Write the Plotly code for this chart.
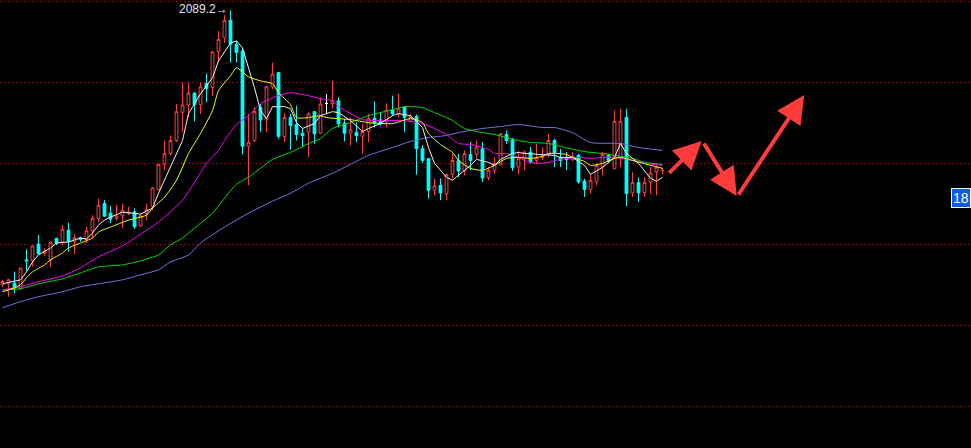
import plotly.graph_objects as go

# ---- candle data (price units) ----
opens = [1750.3,1751.5,1752.4,1745.4,1781.0,1780.1,1800.6,1789.2,1781.0,1807.6,
         1803.5,1817.8,1803.5,1808.4,1806.4,1817.0,1832.2,1850.6,1838.7,1832.2,
         1835.4,1838.4,1840.3,1823.1,1838.4,1846.5,1867.8,1898.9,1912.1,1928.4,
         1963.2,1972.3,1987.0,1972.6,1998.8,1993.9,2038.1,2055.3,2076.7,2047.2,
         2039.0,1921.4,1928.4,1969.3,1953.8,1994.7,2012.3,1933.3,1957.0,1948.1,
         1937.4,1938.6,1964.0,1937.4,1974.2,1974.2,1977.5,1949.7,1937.4,1938.6,
         1933.7,1939.5,1955.8,1953.8,1950.9,1966.1,1961.2,1969.3,1952.1,1957.9,
         1918.2,1905.9,1867.0,1873.1,1862.9,1886.6,1903.8,1890.7,1911.2,1911.2,
         1918.2,1882.6,1891.6,1898.9,1935.8,1929.3,1895.6,1905.9,1914.0,1903.8,
         1907.2,1911.2,1928.4,1907.2,1907.2,1904.7,1910.0,1878.4,1867.8,1877.2,
         1896.5,1910.0,1893.6,1905.9,1957.0,1863.7,1876.4,1864.2,1877.2,1889.5,
         1891.6]
highs = [1756.4,1757.6,1766.6,1771.2,1794.1,1798.2,1811.7,1795.4,1803.5,1808.4,
         1824.0,1826.8,1812.9,1809.6,1821.9,1836.3,1856.8,1854.7,1847.3,1848.6,
         1850.6,1846.5,1844.5,1838.4,1850.6,1871.0,1899.8,1928.4,1934.6,1973.5,
         2000.0,2000.0,1987.7,2000.0,2011.1,2039.0,2063.5,2083.2,2089.2,2051.3,
         2041.4,1961.2,1969.3,1973.5,1996.0,2024.6,2013.0,1961.9,1961.2,1971.4,
         1944.0,1963.2,1965.0,1981.6,1985.8,2002.1,1981.6,1955.1,1957.0,1950.9,
         1948.9,1961.2,1976.7,1963.2,1974.2,1983.7,1985.8,1970.2,1961.2,1960.4,
         1922.3,1906.5,1881.4,1881.4,1887.0,1912.1,1912.1,1916.1,1926.3,1928.4,
         1926.3,1895.6,1907.9,1937.5,1940.7,1931.7,1915.3,1916.1,1920.2,1924.4,
         1920.2,1936.6,1930.5,1918.2,1914.0,1914.0,1912.1,1881.4,1886.6,1899.8,
         1914.0,1912.1,1965.3,1967.4,1967.4,1889.5,1882.6,1883.3,1895.6,1897.7,
         1894.9]
lows = [1747.8,1735.5,1740.1,1744.1,1767.5,1772.8,1788.4,1786.3,1772.0,1799.4,
        1799.4,1791.2,1788.0,1803.5,1801.5,1807.6,1828.0,1834.2,1826.4,1830.1,
        1819.9,1836.3,1819.1,1821.9,1830.1,1842.4,1867.0,1891.6,1910.0,1926.3,
        1938.6,1957.0,1952.1,1961.2,1975.5,1983.7,2024.6,2049.2,2024.6,2024.6,
        1911.2,1873.1,1926.3,1938.6,1938.6,1991.9,1930.5,1926.3,1917.0,1928.4,
        1920.2,1907.9,1924.4,1936.6,1961.2,1967.7,1944.7,1927.2,1922.3,1926.3,
        1912.1,1926.3,1944.7,1946.8,1944.7,1959.1,1957.0,1938.6,1950.9,1886.3,
        1900.5,1856.8,1860.8,1854.7,1854.7,1881.4,1883.3,1885.4,1891.6,1905.9,
        1877.2,1879.3,1887.5,1897.7,1924.4,1890.7,1886.6,1891.6,1899.8,1899.8,
        1903.8,1907.9,1895.6,1895.6,1891.6,1903.0,1875.2,1858.8,1862.9,1873.1,
        1885.4,1901.8,1893.0,1895.6,1847.3,1858.8,1852.6,1858.8,1862.9,1860.8,
        1886.6]
closes = [1754.3,1756.4,1746.2,1770.8,1779.8,1798.2,1788.4,1792.0,1802.7,1801.5,
          1818.7,1803.5,1808.4,1806.4,1817.0,1832.2,1848.6,1835.0,1831.4,1835.4,
          1842.4,1840.3,1821.9,1835.4,1843.6,1869.8,1898.9,1912.1,1928.4,1964.0,
          1972.3,1987.0,1972.6,1994.7,1992.7,2037.7,2053.3,2076.7,2047.2,2036.9,
          1921.4,1926.3,1964.0,1953.8,1994.7,2010.4,1933.3,1957.0,1946.8,1935.8,
          1934.6,1961.2,1936.6,1973.5,1974.2,1977.5,1948.9,1937.4,1941.6,1934.6,
          1939.5,1955.8,1949.7,1948.9,1966.1,1961.2,1967.4,1957.0,1957.9,1918.2,
          1903.8,1867.0,1872.3,1863.7,1886.6,1903.8,1890.7,1912.1,1903.8,1920.2,
          1882.1,1891.6,1899.8,1936.6,1928.4,1894.9,1905.9,1914.0,1901.8,1907.2,
          1910.0,1928.4,1912.8,1903.8,1904.7,1908.8,1877.2,1867.8,1879.3,1897.7,
          1911.2,1903.8,1952.1,1952.1,1862.9,1876.4,1863.7,1876.4,1888.2,1895.6,
          1891.6]
doji_white_idx = [54]
doji_red_idx = [110]

# ---- moving-average lines (candle index, price) ----
ma5_idx = [0,3,4,5,6,8,9,11,12,13,14,15,16,17,18,20,23,25,26,28,30,31,33,35,36,38,39,40,42,43,
           44,45,47,48,49,50,52,53,55,56,58,60,61,63,65,66,68,70,71,72,74,75,76,78,79,81,82,83,85,86,
           87,90,92,93,95,97,98,100,102,103,104,106,108,109,110]
ma5_val = [1751.5,1756.4,1766.2,1778.5,1787.1,1795.7,1801.9,1803.1,1805.6,1808.0,
           1806.8,1814.2,1824.0,1830.1,1833.8,1840.0,1837.5,1844.9,1863.3,1895.2,
           1928.4,1961.6,1986.1,2005.8,2026.7,2048.8,2051.3,2042.7,1993.5,1965.3,
           1955.4,1970.2,1970.2,1967.7,1950.5,1943.2,1949.3,1959.1,1964.0,1962.8,
           1953.0,1939.5,1943.2,1949.3,1959.1,1961.6,1959.1,1944.4,1919.8,1900.2,
           1883.0,1879.3,1885.4,1897.7,1905.1,1901.4,1897.7,1905.1,1912.4,1913.7,
           1912.4,1911.2,1910.0,1907.5,1907.5,1897.7,1886.6,1895.2,1907.5,1924.7,
           1912.4,1900.2,1881.7,1878.0,1883.0]
ma10_idx = [0,2,3,4,5,7,8,10,11,13,15,16,18,21,24,25,27,29,31,33,35,36,38,39,41,43,45,46,48,49,
            51,53,54,58,61,65,68,70,71,73,75,76,78,80,82,84,86,88,90,91,94,95,97,98,100,102,103,105,108,110]
ma10_val = [1741.7,1746.6,1750.3,1758.9,1766.2,1774.8,1781.0,1789.6,1795.7,1801.9,
            1808.0,1815.4,1821.5,1830.1,1836.3,1844.9,1858.4,1879.3,1912.4,1937.0,
            1965.3,1989.8,2008.3,2018.1,2007.0,2002.1,1998.4,1987.4,1972.6,1956.7,
            1956.7,1959.1,1956.7,1954.2,1950.5,1949.3,1955.4,1950.5,1937.0,1923.5,
            1913.7,1903.8,1894.0,1891.6,1897.7,1906.3,1907.5,1906.3,1908.8,1912.4,
            1911.2,1907.5,1902.6,1897.7,1900.2,1906.3,1907.5,1903.8,1897.7,1894.0]
ma20_idx = [0,3,6,10,13,16,20,23,26,30,32,34,36,37,39,41,43,46,48,51,53,55,56,58,60,62,67,70,72,74,
            76,78,81,82,84,86,87,89,91,93,96,98,100,102,105,107,110]
ma20_val = [1744.1,1747.8,1754.0,1761.3,1771.2,1784.7,1798.2,1812.9,1827.7,1854.7,
            1876.8,1900.2,1916.1,1928.4,1948.1,1959.1,1973.9,1983.7,1987.4,1983.7,
            1980.0,1977.6,1970.2,1961.6,1954.2,1953.0,1953.0,1949.3,1943.2,1935.8,
            1924.7,1923.5,1917.4,1912.4,1912.4,1907.5,1903.8,1900.2,1901.4,1905.1,
            1907.5,1906.3,1907.5,1907.5,1903.8,1900.2,1897.7]
ma30_idx = [0,3,6,10,13,16,20,23,26,28,30,32,35,37,39,41,43,45,48,51,53,55,58,61,65,67,70,72,74,75,
            77,80,82,84,86,88,91,93,96,98,100,102,105,107,110]
ma30_val = [1744.1,1745.4,1751.5,1757.6,1765.0,1772.4,1774.8,1779.8,1787.1,1799.4,
            1808.0,1820.3,1838.7,1857.2,1874.4,1883.0,1894.0,1905.1,1913.7,1924.7,
            1930.9,1943.2,1950.5,1959.1,1966.5,1970.2,1969.0,1962.8,1956.7,1953.0,
            1943.2,1938.2,1935.8,1932.1,1928.4,1926.0,1924.7,1921.0,1916.1,1913.7,
            1912.4,1910.0,1906.3,1901.4,1898.9]
ma60_idx = [0,3,6,10,13,16,20,23,26,28,31,33,37,41,45,48,51,55,58,61,65,68,71,74,76,80,83,86,90,92,
            95,98,103,106,110]
ma60_val = [1722.0,1729.4,1735.5,1741.7,1747.8,1751.5,1756.4,1762.6,1768.7,1778.5,
            1787.1,1801.9,1821.5,1838.7,1853.5,1863.3,1875.6,1887.9,1898.9,1910.0,
            1919.8,1927.2,1932.1,1934.6,1938.2,1943.2,1945.6,1948.1,1944.4,1944.4,
            1938.2,1925.9,1924.7,1919.8,1916.1]

high_label = "2089.2→"
last_label = "18"
last_label_price = 1857.0
grid_levels = [1600, 1700, 1800, 1900, 2000, 2100]

RED = "#ff3c3c"
CYAN = "#00ffff"

W, H = 971, 448

fig = go.Figure()

# moving averages (drawn beneath candles)
ma_specs = [
    (ma60_idx, ma60_val, "#7474e8", "spline"),
    (ma30_idx, ma30_val, "#00dd00", "spline"),
    (ma20_idx, ma20_val, "#ff00ff", "spline"),
    (ma10_idx, ma10_val, "#ffff00", "spline"),
    (ma5_idx, ma5_val, "#f0f0f0", "linear"),
]
for ix, vals, col, shp in ma_specs:
    line = dict(color=col, width=1, shape=shp)
    if shp == "spline":
        line["smoothing"] = 0.6
    fig.add_trace(go.Scatter(x=ix, y=vals, mode="lines", line=line,
                             hoverinfo="skip", showlegend=False))

N = len(opens)
special = set(doji_white_idx + doji_red_idx)
normal = [i for i in range(N) if i not in special]


def pick(arr, idx):
    return [arr[i] for i in idx]


fig.add_trace(go.Candlestick(
    x=normal, open=pick(opens, normal), high=pick(highs, normal),
    low=pick(lows, normal), close=pick(closes, normal),
    increasing=dict(line=dict(color=RED, width=1), fillcolor="rgba(0,0,0,0)"),
    decreasing=dict(line=dict(color=CYAN, width=1), fillcolor=CYAN),
    whiskerwidth=0, showlegend=False, hoverinfo="skip"))

for idx, col in ((doji_white_idx, "#ffffff"), (doji_red_idx, RED)):
    fig.add_trace(go.Candlestick(
        x=idx, open=pick(opens, idx), high=pick(highs, idx),
        low=pick(lows, idx), close=pick(closes, idx),
        increasing=dict(line=dict(color=col, width=1), fillcolor=col),
        decreasing=dict(line=dict(color=col, width=1), fillcolor=col),
        whiskerwidth=0, showlegend=False, hoverinfo="skip"))

annotations = [
    dict(x=38, y=2089.2, xref="x", yref="y", text=high_label, showarrow=False,
         xanchor="right", yanchor="middle", xshift=-1, yshift=1,
         font=dict(family="Liberation Sans, Arial", size=12, color="#e4e4ec")),
    dict(x=1.0, y=last_label_price, xref="paper", yref="y", text=last_label,
         showarrow=False, xanchor="right", yanchor="middle",
         bgcolor="#0a5cf0", bordercolor="#ffffff", borderwidth=1, borderpad=1,
         font=dict(family="Liberation Sans, Arial", size=14, color="#ffffff")),
]
# hand-drawn red arrows (head position in paper coords, tail offsets in pixels)
arrows = [((701.7, 141.0), (667.7, 174.3)),
          ((736.7, 196.0), (703.0, 142.0)),
          ((804.3, 95.0), (737.5, 196.0))]
for (hx, hy), (tx, ty) in arrows:
    annotations.append(dict(
        x=hx / W, y=1 - hy / H, xref="paper", yref="paper",
        ax=tx - hx, ay=ty - hy, showarrow=True, arrowhead=2,
        arrowsize=1.4, arrowwidth=4, arrowcolor="#ff3b3b", text=""))

# y-range: 100 price units = 81 px so grid lines fall on whole pixels;
# x-range: one candle per 6 px, centred on half pixels for crisp candles
fig.update_layout(
    width=W, height=H,
    margin=dict(l=0, r=0, t=0, b=0),
    paper_bgcolor="#000000", plot_bgcolor="#000000",
    showlegend=False, boxgap=1 / 3,
    annotations=annotations,
    xaxis=dict(range=[-2.5 / 6, (W - 2.5) / 6], showgrid=False, zeroline=False,
               showticklabels=False, ticks="", rangeslider=dict(visible=False),
               fixedrange=True),
    yaxis=dict(range=[1548.77, 2101.85], showgrid=True, gridcolor="#9a0000",
               griddash="2px,2px", gridwidth=1, tickvals=grid_levels,
               zeroline=False, showticklabels=False, ticks="", fixedrange=True),
)

fig.write_html("out.html", config={"displayModeBar": False})

# remove the browser's default page margin so the chart fills the window
with open("out.html", "r", encoding="utf-8") as f:
    html = f.read()
html = html.replace(
    "<head>",
    "<head><style>html,body{margin:0;padding:0;background:#000;overflow:hidden;}</style>",
    1)
with open("out.html", "w", encoding="utf-8") as f:
    f.write(html)
